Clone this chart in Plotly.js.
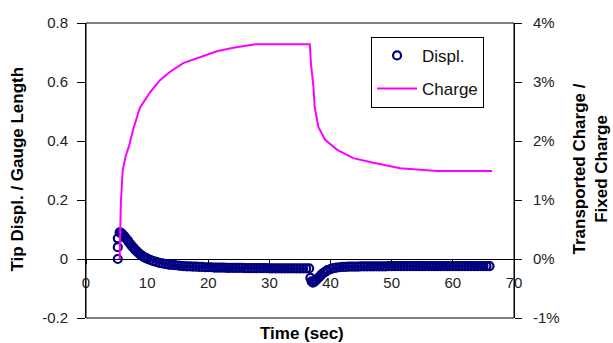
<!DOCTYPE html>
<html><head><meta charset="utf-8">
<script src="https://cdn.plot.ly/plotly-3.0.1.min.js"></script>
<style>html,body{margin:0;padding:0;background:#fff}#chart{width:613px;height:343px}</style>
</head><body><div id="chart"></div>
<script>
// Displacement (tip displ / gauge length) vs time
var displTime = [5.2,5.2,5.2,5.5,5.8,6.0,6.3,6.5,6.8,7.0,7.3,7.5,7.8,8.0,8.3,8.5,8.8,9.0,9.3,9.5,9.8,10.0,10.5,11.0,11.5,12.0,12.5,13.0,13.5,14.0,14.5,15.0,15.5,16.0,16.5,17.0,17.5,18.0,18.5,19.0,19.5,20.0,20.5,21.0,21.5,22.0,22.5,23.0,23.5,24.0,24.5,25.0,25.5,26.0,26.5,27.0,27.5,28.0,28.5,29.0,29.5,30.0,30.5,31.0,31.5,32.0,32.5,33.0,33.5,34.0,34.5,35.0,35.5,36.0,36.5,36.7,36.9,37.1,37.3,37.5,37.7,38.0,38.3,38.5,38.8,39.0,39.3,39.5,40.0,40.5,41.0,41.5,42.0,42.5,43.0,43.5,44.0,44.5,45.0,45.5,46.0,46.5,47.0,47.5,48.0,48.5,49.0,49.5,50.0,50.5,51.0,51.5,52.0,52.5,53.0,53.5,54.0,54.5,55.0,55.5,56.0,56.5,57.0,57.5,58.0,58.5,59.0,59.5,60.0,60.5,61.0,61.5,62.0,62.5,63.0,63.5,64.0,64.5,65.0,65.5,66.0,66.5];
var displValue = [0.0,0.04,0.07,0.09,0.088,0.083,0.077,0.071,0.064,0.057,0.05,0.044,0.038,0.032,0.027,0.022,0.017,0.013,0.009,0.006,0.003,0.001,-0.003,-0.007,-0.010,-0.013,-0.015,-0.017,-0.019,-0.020,-0.021,-0.022,-0.023,-0.024,-0.025,-0.025,-0.026,-0.026,-0.027,-0.027,-0.028,-0.028,-0.028,-0.029,-0.029,-0.029,-0.029,-0.030,-0.030,-0.030,-0.030,-0.030,-0.030,-0.031,-0.031,-0.031,-0.031,-0.031,-0.031,-0.031,-0.031,-0.032,-0.032,-0.032,-0.032,-0.032,-0.032,-0.032,-0.032,-0.032,-0.032,-0.032,-0.032,-0.032,-0.032,-0.064,-0.076,-0.080,-0.078,-0.074,-0.070,-0.064,-0.058,-0.053,-0.048,-0.045,-0.041,-0.038,-0.034,-0.031,-0.029,-0.028,-0.027,-0.027,-0.026,-0.026,-0.026,-0.026,-0.025,-0.025,-0.025,-0.025,-0.025,-0.025,-0.025,-0.025,-0.025,-0.024,-0.024,-0.024,-0.024,-0.024,-0.024,-0.024,-0.024,-0.024,-0.024,-0.024,-0.024,-0.024,-0.024,-0.024,-0.024,-0.024,-0.024,-0.024,-0.024,-0.024,-0.024,-0.024,-0.024,-0.024,-0.024,-0.024,-0.024,-0.024,-0.024,-0.024,-0.024,-0.024,-0.024];

// Transported charge / fixed charge vs time (fraction)
var chargeTime = [5.5,5.6,5.7,6.0,6.5,7.0,7.7,8.8,10.5,12.1,13.7,15.9,18.7,21.4,24.1,27.7,36.6,36.8,37.2,37.4,38.0,39.1,41.1,43.7,47.0,51.4,57.4,66.4];
var chargeValue = [0.0,0.005,0.0095,0.015,0.0175,0.019,0.0219,0.0256,0.0283,0.0303,0.0317,0.0332,0.0342,0.0352,0.0358,0.0364,0.0364,0.0330,0.0292,0.0258,0.0224,0.0202,0.0185,0.0171,0.0163,0.0154,0.0149,0.0149];

var leftTickVals = [-0.2,0,0.2,0.4,0.6,0.8];
var leftTickText = ['-0.2','0','0.2','0.4','0.6','0.8'];
var rightTickVals = [-0.01,0,0.01,0.02,0.03,0.04];
var rightTickText = ['-1%','0%','1%','2%','3%','4%'];
var xTickVals = [0,10,20,30,40,50,60,70];
var xTickText = ['0','10','20','30','40','50','60','70'];

var FONT = 'Liberation Sans, Arial, sans-serif';
var TICKFONT = {family: FONT, size: 15, color: '#222'};
var TITLEFONT = {family: FONT, size: 17, color: '#000'};
var traces = [
  {x: displTime, y: displValue, name: 'Displ.', type: 'scatter', mode: 'markers', legendgroup: 'a',
   marker: {symbol: 'circle-open', size: 8, color: '#000080', line: {width: 2.2, color: '#000080'}},
   yaxis: 'y', cliponaxis: false},
  {x: chargeTime, y: chargeValue, name: 'Charge', type: 'scatter', mode: 'lines', legendgroup: 'b',
   line: {color: '#FF00FF', width: 2, shape: 'linear'}, yaxis: 'y2'}
];

var layout = {
  width: 613, height: 343,
  margin: {l: 86, r: 99, t: 23, b: 25, pad: 0},
  paper_bgcolor: '#fff', plot_bgcolor: '#fff',
  font: {family: FONT, size: 15, color: '#222'},
  showlegend: true,
  legend: {x: 0.666, y: 0.953, xanchor: 'left', yanchor: 'top', bordercolor: '#000', borderwidth: 1,
           bgcolor: '#fff', font: {family: FONT, size: 17, color: '#111'}, traceorder: 'grouped',
           tracegroupgap: 8, itemwidth: 40},
  xaxis: {range: [0, 70], tickvals: xTickVals, ticktext: xTickText, anchor: 'free', position: 0.2,
          showline: false, zeroline: false, showgrid: false, ticks: 'outside', ticklen: 4, tickcolor: '#000',
          ticklabelstandoff: 6, tickfont: TICKFONT},
  yaxis: {range: [-0.2, 0.8], tickvals: leftTickVals, ticktext: leftTickText, showgrid: false,
          zeroline: true, zerolinecolor: '#000', zerolinewidth: 1,
          showline: true, linecolor: '#000', linewidth: 1, ticks: 'outside', ticklen: 8, tickcolor: '#000',
          ticklabelstandoff: 6, tickfont: TICKFONT},
  yaxis2: {range: [-0.01, 0.04], tickvals: rightTickVals, ticktext: rightTickText, overlaying: 'y', side: 'right',
           showgrid: false, zeroline: false, showline: true, linecolor: '#000', linewidth: 1,
           ticks: 'outside', ticklen: 7, tickcolor: '#000', ticklabelstandoff: 8, tickfont: TICKFONT},
  shapes: [{type: 'rect', xref: 'paper', yref: 'paper', x0: 0, x1: 1, y0: 0, y1: 1, line: {color: '#000', width: 1}}],
  annotations: [
    {text: '<b>Time (sec)</b>', xref: 'paper', yref: 'paper', x: 0.5, y: 0, yshift: -15, xshift: 2,
     xanchor: 'center', yanchor: 'middle', showarrow: false, font: TITLEFONT},
    {text: '<b>Tip Displ. / Gauge Length</b>', xref: 'paper', yref: 'paper', x: 0, y: 0.5, xshift: -69, yshift: 1,
     xanchor: 'center', yanchor: 'middle', textangle: -90, showarrow: false, font: TITLEFONT},
    {text: '<b>Transported Charge /<br>Fixed Charge</b>', xref: 'paper', yref: 'paper', x: 1, y: 0.5, xshift: 76, yshift: 1,
     xanchor: 'center', yanchor: 'middle', textangle: -90, showarrow: false, font: TITLEFONT}
  ]
};
Plotly.newPlot('chart', traces, layout, {displayModeBar: false, staticPlot: true});
</script></body></html>
